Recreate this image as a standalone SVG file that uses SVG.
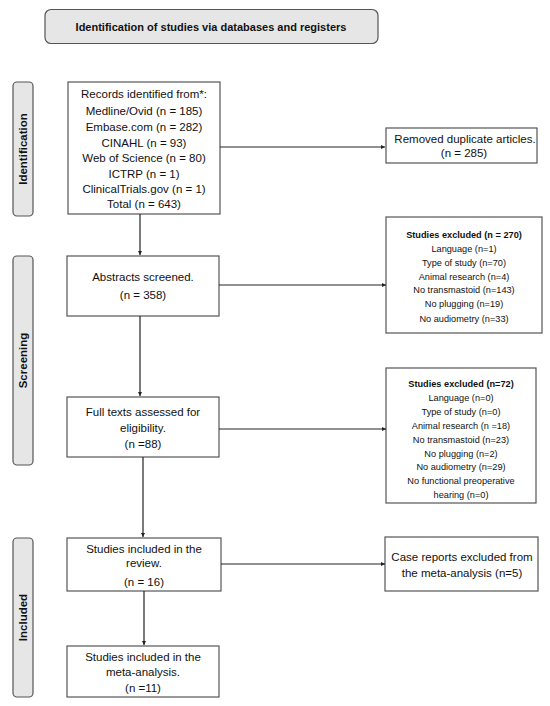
<svg xmlns="http://www.w3.org/2000/svg" width="550" height="706" viewBox="0 0 550 706">
<style>
text{font-family:"Liberation Sans",Arial,sans-serif;fill:#111;text-anchor:middle}
.box{fill:#fff;stroke:#555;stroke-width:1.2}
.side{fill:#e6e6e6;stroke:#555;stroke-width:1.2}
.t{font-size:11.5px}
.s{font-size:9.2px}
.b{font-weight:bold}
.lbl{font-size:11.5px;font-weight:bold}
.c{stroke:#222;stroke-width:1.2;fill:none;marker-end:url(#ah)}
</style>
<defs>
<marker id="ah" viewBox="0 0 6 6" refX="6" refY="3" markerWidth="4" markerHeight="4" orient="auto" markerUnits="userSpaceOnUse">
<path d="M0,0 L6,3 L0,6 z" fill="#222"/>
</marker>
</defs>
<rect width="550" height="706" fill="#fff"/>
<g id="title">
<rect x="45" y="9.5" width="333" height="34" rx="6" class="side"/>
<text x="211" y="30.5" class="b" style="font-size:11px">Identification of studies via databases and registers</text>
</g>
<g id="side-identification">
<rect x="13" y="82" width="20" height="134" rx="4" class="side"/>
<text transform="translate(27,149) rotate(-90)" class="lbl">Identification</text>
</g>
<g id="side-screening">
<rect x="13" y="256" width="20" height="209" rx="4" class="side"/>
<text transform="translate(27,360.5) rotate(-90)" class="lbl">Screening</text>
</g>
<g id="side-included">
<rect x="13" y="538" width="20" height="159" rx="4" class="side"/>
<text transform="translate(27,617.5) rotate(-90)" class="lbl">Included</text>
</g>
<g id="records">
<rect x="68" y="82" width="152" height="132" class="box"/>
<text class="t" x="144" y="98">Records identified from*:</text>
<text class="t" x="144" y="115">Medline/Ovid (n = 185)</text>
<text class="t" x="144" y="131">Embase.com (n = 282)</text>
<text class="t" x="144" y="147">CINAHL (n = 93)</text>
<text class="t" x="144" y="162">Web of Science (n = 80)</text>
<text class="t" x="144" y="178">ICTRP (n = 1)</text>
<text class="t" x="144" y="193">ClinicalTrials.gov (n = 1)</text>
<text class="t" x="144" y="208">Total (n = 643)</text>
</g>
<g id="removed">
<rect x="386" y="128" width="151" height="35" class="box"/>
<text class="t" x="465" y="143">Removed duplicate articles.</text>
<text class="t" x="464" y="157">(n = 285)</text>
</g>
<g id="abstracts">
<rect x="67" y="256" width="152" height="60" class="box"/>
<text class="t" x="143" y="281">Abstracts screened.</text>
<text class="t" x="143" y="299">(n = 358)</text>
</g>
<g id="excluded1" xml:space="preserve">
<rect x="386" y="217" width="156" height="116" class="box"/>
<text class="s b" x="464" y="238">Studies excluded (n = 270)</text>
<text class="s" x="464" y="252">Language (n=1)</text>
<text class="s" x="464" y="266">Type of study (n=70)</text>
<text class="s" x="464" y="280">Animal research (n=4)</text>
<text class="s" x="464" y="293">No transmastoid (n=143)</text>
<text class="s" x="464" y="307">No plugging  (n=19)</text>
<text class="s" x="464" y="322">No audiometry (n=33)</text>
</g>
<g id="fulltexts">
<rect x="67" y="397" width="152" height="60" class="box"/>
<text class="t" x="143" y="416">Full texts assessed for</text>
<text class="t" x="143" y="432">eligibility.</text>
<text class="t" x="143" y="448">(n =88)</text>
</g>
<g id="excluded2" xml:space="preserve">
<rect x="386" y="368" width="150" height="135" class="box"/>
<text class="s b" x="461" y="387">Studies excluded (n=72)</text>
<text class="s" x="461" y="401">Language (n=0)</text>
<text class="s" x="461" y="415">Type of study (n=0)</text>
<text class="s" x="461" y="429">Animal research (n =18)</text>
<text class="s" x="461" y="443">No transmastoid  (n=23)</text>
<text class="s" x="461" y="457">No plugging   (n=2)</text>
<text class="s" x="461" y="470">No audiometry (n=29)</text>
<text class="s" x="461" y="484">No functional preoperative</text>
<text class="s" x="461" y="498">hearing  (n=0)</text>
</g>
<g id="review">
<rect x="67" y="538" width="154" height="53" class="box"/>
<text class="t" x="144" y="553">Studies included in the</text>
<text class="t" x="144" y="567">review.</text>
<text class="t" x="144" y="586">(n = 16)</text>
</g>
<g id="casereports">
<rect x="385" y="537" width="153" height="54" class="box"/>
<text class="t" x="462" y="561">Case reports excluded from</text>
<text class="t" x="462" y="577">the meta-analysis (n=5)</text>
</g>
<g id="meta">
<rect x="67" y="646" width="152" height="51" class="box"/>
<text class="t" x="143" y="661">Studies included in the</text>
<text class="t" x="143" y="676">meta-analysis.</text>
<text class="t" x="143" y="692">(n =11)</text>
</g>
<g id="connectors">
<line x1="220" y1="147" x2="385" y2="147" class="c"/>
<line x1="140" y1="214" x2="140" y2="255" class="c"/>
<line x1="219" y1="285" x2="386" y2="285" class="c"/>
<line x1="140" y1="316" x2="140" y2="396" class="c"/>
<line x1="219" y1="429" x2="386" y2="429" class="c"/>
<line x1="143" y1="457" x2="143" y2="537" class="c"/>
<line x1="221" y1="564" x2="385" y2="564" class="c"/>
<line x1="144" y1="591" x2="144" y2="645" class="c"/>
</g>
</svg>
